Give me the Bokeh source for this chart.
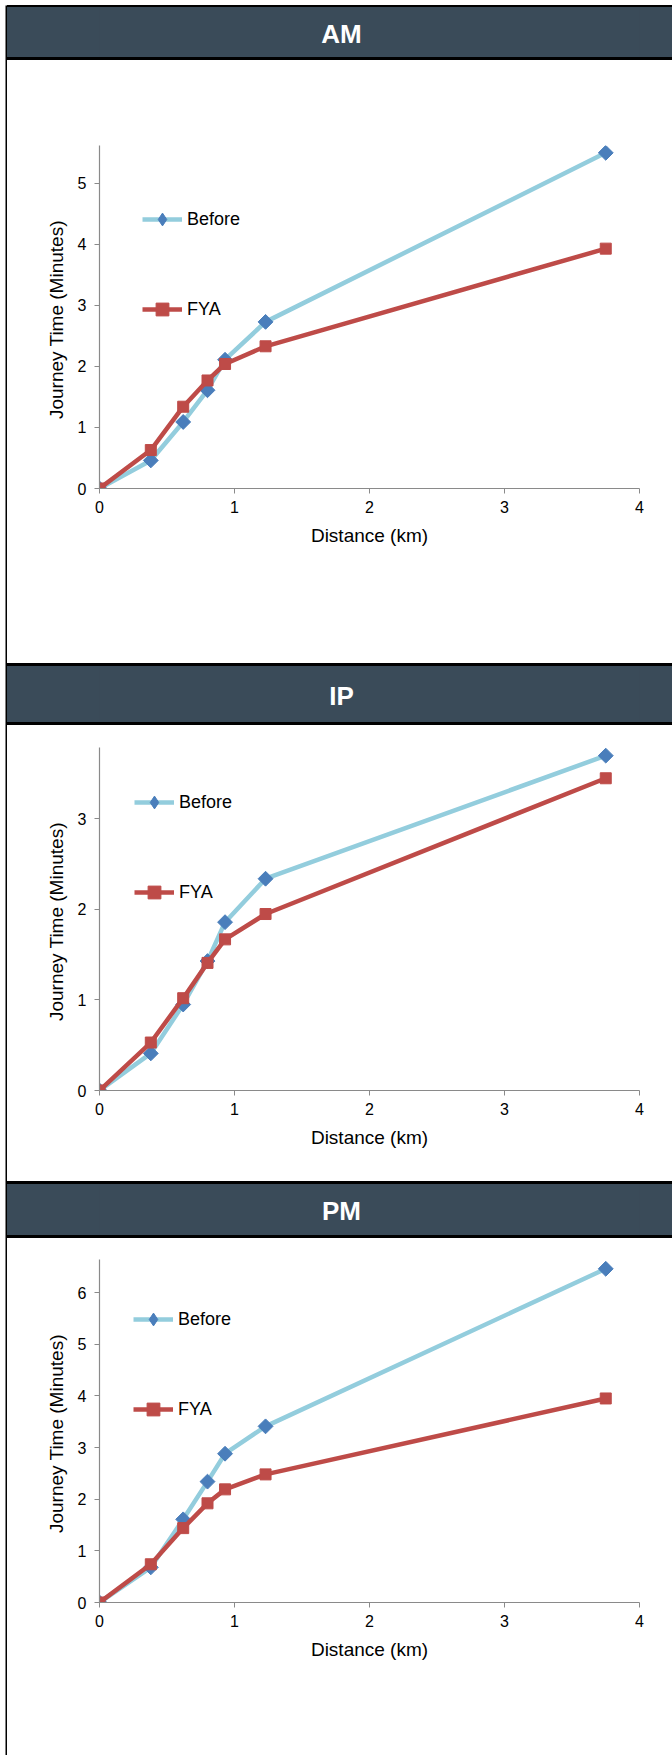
from math import pi

from bokeh.embed import file_html
from bokeh.layouts import column, row
from bokeh.models import FixedTicker, Label, Legend, LegendItem, Range1d, Spacer
from bokeh.plotting import figure
from bokeh.resources import INLINE

# ---- data -------------------------------------------------------------
distance_km = [0, 0.38, 0.62, 0.80, 0.93, 1.23, 3.75]

am_before = [0, 0.46, 1.09, 1.61, 2.11, 2.73, 5.50]
am_fya = [0, 0.63, 1.34, 1.77, 2.04, 2.33, 3.93]

ip_before = [0, 0.41, 0.95, 1.43, 1.86, 2.34, 3.70]
ip_fya = [0, 0.53, 1.02, 1.41, 1.67, 1.95, 3.45]

pm_before = [0, 0.68, 1.61, 2.34, 2.88, 3.41, 6.46]
pm_fya = [0, 0.74, 1.44, 1.92, 2.19, 2.48, 3.95]

x_ticks = [0, 1, 2, 3, 4]
am_y_ticks = [0, 1, 2, 3, 4, 5]
ip_y_ticks = [0, 1, 2, 3]
pm_y_ticks = [0, 1, 2, 3, 4, 5, 6]

series_names = ["Before", "FYA"]

# ---- styling ----------------------------------------------------------
FONT = "Liberation Sans"
HEADER_FILL = "#3A4B59"
BEFORE_LINE = "#93CDDD"
BEFORE_MARK = "#4A7EBB"
FYA_LINE = "#BE4B48"
FYA_MARK = "#BE4B48"
AXIS_GREY = "#8A8A8A"

CONTENT_W = 665
LEFT_B, RIGHT_B = 92, 33      # frame inset shared by every plot in the column
FRAME_H = 343


def solid(color, height):
    """A plain band of colour spanning the whole content width."""
    p = figure(width=CONTENT_W, height=height,
               x_range=Range1d(0, 1), y_range=Range1d(0, 1),
               x_axis_type=None, y_axis_type=None,
               toolbar_location=None, output_backend="svg",
               min_border=0, min_border_left=LEFT_B, min_border_right=RIGHT_B,
               min_border_top=0, min_border_bottom=0,
               background_fill_color=color, border_fill_color=color,
               outline_line_color=None)
    return p


def boxed(p, color):
    # container painted in the same colour, so the band has no seams
    return column(p, spacing=0, styles={"background-color": color})


def header(title, top, fill_h, bottom):
    band = solid(HEADER_FILL, fill_h)
    band.x_range = Range1d(LEFT_B, CONTENT_W - RIGHT_B)
    band.y_range = Range1d(0, fill_h)
    band.add_layout(Label(x=334, y=fill_h / 2 - 1, text=title,
                          text_font=FONT, text_font_size="26px",
                          text_font_style="bold", text_color="white",
                          text_align="center", text_baseline="middle"))
    return [boxed(solid("black", top), "black"),
            boxed(band, HEADER_FILL),
            boxed(solid("black", bottom), "black")]


def chart(before, fya, y_end, y_ticks, height, top, legend_xy):
    p = figure(width=CONTENT_W, height=height,
               x_range=Range1d(0, 4), y_range=Range1d(0, y_end),
               toolbar_location=None, output_backend="svg",
               min_border=0, min_border_left=LEFT_B, min_border_right=RIGHT_B,
               min_border_top=top, min_border_bottom=height - top - FRAME_H,
               background_fill_color="white", border_fill_color="white",
               outline_line_color=None)
    p.xgrid.visible = False
    p.ygrid.visible = False

    l1 = p.line(distance_km, before, line_color=BEFORE_LINE, line_width=4.5,
                line_join="round")
    p.scatter(distance_km, before, marker="square", angle=pi / 4,
              size=10.5, fill_color=BEFORE_MARK, line_color=BEFORE_MARK)
    l2 = p.line(distance_km, fya, line_color=FYA_LINE, line_width=4.5,
                line_join="round")
    m2 = p.scatter(distance_km, fya, marker="square", size=11,
                   fill_color=FYA_MARK, line_color=FYA_MARK)
    # diamond key used only by the legend entry of the "Before" series
    k1 = p.scatter(distance_km, before, marker="diamond", visible=False,
                   fill_color=BEFORE_MARK, line_color=BEFORE_MARK)

    for ax in (p.xaxis[0], p.yaxis[0]):
        ax.axis_line_color = AXIS_GREY
        ax.axis_line_width = 1.2
        ax.major_tick_line_color = AXIS_GREY
        ax.major_tick_out = 5
        ax.major_tick_in = 0
        ax.minor_tick_line_color = None
        ax.major_label_text_font = FONT
        ax.major_label_text_font_size = "16px"
        ax.major_label_text_color = "black"
        ax.axis_label_text_font = FONT
        ax.axis_label_text_font_size = "19px"
        ax.axis_label_text_font_style = "normal"
        ax.axis_label_text_color = "black"

    p.xaxis.ticker = FixedTicker(ticks=x_ticks)
    p.yaxis.ticker = FixedTicker(ticks=y_ticks)
    p.xaxis.axis_label = "Distance (km)"
    p.yaxis.axis_label = "Journey Time  (Minutes)"
    p.xaxis.major_label_standoff = 7
    p.xaxis.axis_label_standoff = 9
    p.yaxis.major_label_standoff = 8
    p.yaxis.axis_label_standoff = 8

    legend = Legend(items=[LegendItem(label=series_names[0], renderers=[l1, k1]),
                           LegendItem(label=series_names[1], renderers=[l2, m2])],
                    location=legend_xy, padding=0, margin=0, spacing=58,
                    glyph_width=40, glyph_height=32, label_height=20,
                    label_standoff=5, label_text_font=FONT,
                    label_text_font_size="18px", label_text_color="black",
                    border_line_color=None, background_fill_alpha=0)
    p.add_layout(legend)
    return p


panels = column(
    *header("AM", 2, 50, 3),
    chart(am_before, am_fya, 5.62, am_y_ticks, 603, 85, (43, 163)),
    *header("IP", 3, 56, 3),
    chart(ip_before, ip_fya, 3.79, ip_y_ticks, 456, 22, (35, 182)),
    *header("PM", 3, 51, 3),
    chart(pm_before, pm_fya, 6.64, pm_y_ticks, 512, 21, (34, 177)),
    spacing=0,
)

strip = figure(width=2, height=1750, x_axis_type=None, y_axis_type=None,
               toolbar_location=None, output_backend="svg", min_border=0,
               background_fill_color="black", border_fill_color="black",
               outline_line_color=None)

page = column(
    Spacer(width=672, height=5),
    row(Spacer(width=5, height=1750), strip, panels, spacing=0),
    spacing=0,
)

open("out.html", "w").write(file_html(page, INLINE))
